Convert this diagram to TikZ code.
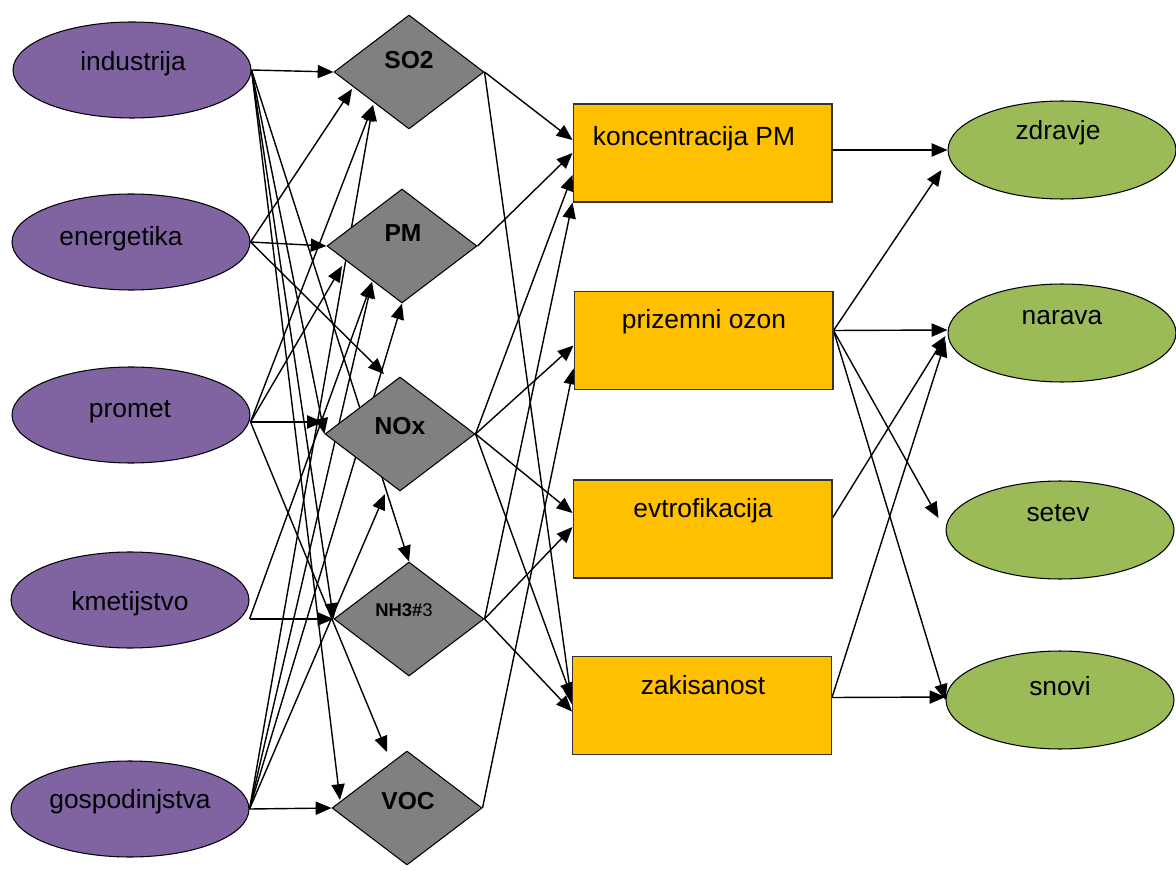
\documentclass[tikz,border=0pt]{standalone}
\usepackage{fontspec}
\setmainfont{Liberation Sans}
\usetikzlibrary{shapes.geometric,arrows.meta,backgrounds}
\definecolor{purp}{HTML}{8064A2}
\definecolor{dgray}{HTML}{808080}
\definecolor{orng}{HTML}{FFC000}
\definecolor{grn}{HTML}{9BBB59}
\begin{document}
\begin{tikzpicture}[x=0.02cm,y=-0.02cm,
  src/.style={ellipse,draw=black,line width=0.6pt,fill=purp,minimum width=4.76cm,minimum height=1.92cm,inner sep=0pt},
  eff/.style={ellipse,draw=black,line width=0.6pt,fill=grn,minimum width=4.56cm,minimum height=1.96cm,inner sep=0pt},
  pol/.style={diamond,draw=black,line width=0.6pt,fill=dgray,minimum width=3cm,minimum height=2.28cm,inner sep=0pt},
  imp/.style={rectangle,draw=black!80,line width=0.6pt,fill=orng,minimum width=5.18cm,minimum height=1.96cm,inner sep=0pt},
  txt/.style={font=\fontsize{15}{18}\selectfont,inner sep=0pt,anchor=base},
  dtxt/.style={font=\bfseries\fontsize{14}{17}\selectfont,inner sep=0pt,anchor=base},
  arr/.style={-{Triangle[length=9pt,width=7.5pt]},line width=0.8pt}
]
\useasboundingbox (0,0) rectangle (1176,871);
% sources
\node[src] (ind) at (132,70) {};
\node[src] (ene) at (131,242) {};
\node[src] (pro) at (131,415) {};
\node[src] (kme) at (130,600) {};
\node[src] (gos) at (130,809) {};
\node[txt] (indt) at (133,71) {industrija};
\node[txt] (enet) at (121,246) {energetika};
\node[txt] (prot) at (130,418) {promet};
\node[txt] (kmet) at (130,610) {kmetijstvo};
\node[txt] (gost) at (130,808) {gospodinjstva};
% pollutants
\node[pol] (so2) at (409,72) {};
\node[pol] (pm) at (402,246) {};
\node[pol] (nox) at (400,434) {};
\node[pol] (nh3) at (409,619) {};
\node[pol] (voc) at (407,808) {};
\node[dtxt] (so2t) at (409,69) {SO2};
\node[dtxt] (pmt) at (403,242) {PM};
\node[dtxt] (noxt) at (400,434) {NOx};
\node[inner sep=0pt,anchor=base] (nh3t) at (404,616) {\fontsize{10.5}{13}\selectfont\textbf{NH3\#}3};
\node[dtxt] (voct) at (408,809) {VOC};
% impacts
\node[imp] (kpm) at (702.5,153) {};
\node[imp] (ozo) at (703.5,340.5) {};
\node[imp] (evt) at (702.5,529) {};
\node[imp] (zak) at (702,705.5) {};
\node[txt] (kpmt) at (694,146) {koncentracija PM};
\node[txt] (ozot) at (704,329) {prizemni ozon};
\node[txt] (evtt) at (703,517) {evtrofikacija};
\node[txt] (zakt) at (703,694) {zakisanost};
% effects
\node[eff] (zdr) at (1062,150) {};
\node[eff] (nar) at (1062,333) {};
\node[eff] (set) at (1060,530) {};
\node[eff] (sno) at (1060,700) {};
\node[txt] (zdrt) at (1058,140) {zdravje};
\node[txt] (nart) at (1062,325) {narava};
\node[txt] (sett) at (1058,521) {setev};
\node[txt] (snot) at (1060,695) {snovi};
% start points
\coordinate (proE) at ([shift={(0,7)}]pro.east);
\coordinate (kmeE) at ([shift={(0,19)}]kme.east);
\coordinate (kpmE) at ([shift={(0,-3)}]kpm.east);
\coordinate (ozoE) at ([shift={(0,-10)}]ozo.east);
\coordinate (evtE) at ([shift={(0,-11)}]evt.east);
\coordinate (zakE) at ([shift={(0,-8)}]zak.east);
\begin{scope}[on background layer]
% industrija
\draw[arr] (ind.east) -- (so2.west);
\draw[arr] (ind.east) -- (nox.west);
\draw[arr] (ind.east) -- (nh3.north);
\draw[arr] (ind.east) -- (nh3.west);
\draw[arr] (ind.east) -- ([shift={(-67,-8)}]voc.center);
% energetika
\draw[arr] (ene.east) -- (pm.west);
\draw[arr] (ene.east) -- ([shift={(-57,17)}]so2.center);
\draw[arr] (ene.east) -- ([shift={(-16,-60)}]nox.center);
% promet
\draw[arr] (proE) -- ([shift={(-77,-12)}]nox.center);
\draw[arr] (proE) -- ([shift={(-36,33)}]so2.center);
\draw[arr] (proE) -- ([shift={(-60,20)}]pm.center);
\draw[arr] (proE) -- ([shift={(-20,-56)}]voc.center);
% kmetijstvo
\draw[arr] (kmeE) -- (nh3.west);
\draw[arr] (kmeE) -- ([shift={(-30,36)}]pm.center);
% gospodinjstva
\draw[arr] (gos.east) -- (voc.west);
\draw[arr] (gos.east) -- ([shift={(-36,33)}]so2.center);
\draw[arr] (gos.east) -- ([shift={(-30,36)}]pm.center);
\draw[arr] (gos.east) -- (pm.south);
\draw[arr] (gos.east) -- ([shift={(-15,60)}]nox.center);
% pollutants -> impacts
\draw[arr] (so2.east) -- ([shift={(0,-13)}]kpm.west);
\draw[arr] (so2.east) -- ([shift={(0,-1)}]zak.west);
\draw[arr] (pm.east) -- (kpm.west);
\draw[arr] (nox.east) -- ([shift={(0,22)}]kpm.west);
\draw[arr] (nox.east) -- ([shift={(0,5)}]ozo.west);
\draw[arr] (nox.east) -- ([shift={(0,-16)}]evt.west);
\draw[arr] (nox.east) -- ([shift={(0,-7)}]zak.west);
\draw[arr] (nh3.east) -- (kpm.south west);
\draw[arr] (nh3.east) -- ([shift={(0,-2)}]evt.west);
\draw[arr] (nh3.east) -- ([shift={(0,6)}]zak.west);
\draw[arr] (voc.east) -- ([shift={(0,28)}]ozo.west);
% impacts -> effects
\draw[arr] (kpmE) -- (zdr.west);
\draw[arr] (ozoE) -- ([shift={(-6,20)}]zdr.west);
\draw[arr] (ozoE) -- ([shift={(0,-3)}]nar.west);
\draw[arr] (ozoE) -- ([shift={(-7,-12)}]set.west);
\draw[arr] (ozoE) -- (sno.west);
\draw[arr] (evtE) -- ([shift={(-2,3)}]nar.west);
\draw[arr] (zakE) -- ([shift={(-2,8)}]nar.west);
\draw[arr] (zakE) -- ([shift={(0,-3)}]sno.west);
\end{scope}
\end{tikzpicture}
\end{document}
